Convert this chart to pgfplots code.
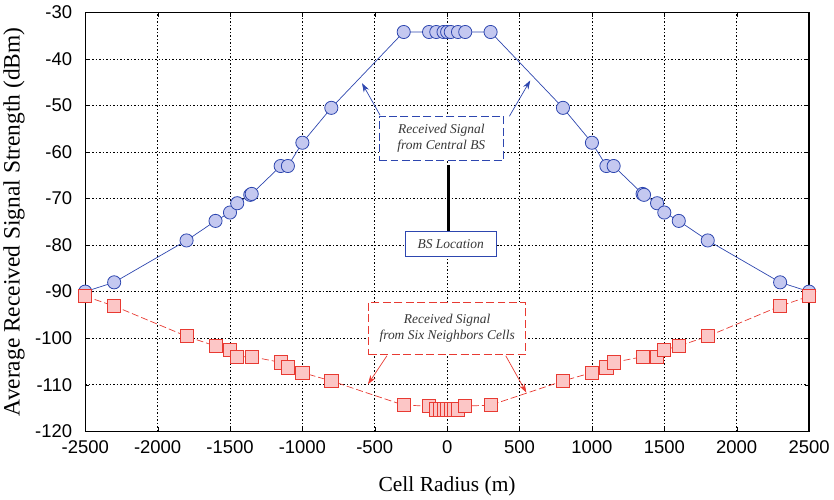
\documentclass[border=0pt]{standalone}
\usepackage{fontspec}
\setmainfont{Liberation Serif}
\newfontfamily\arialfont{Liberation Sans}
\usepackage{pgfplots}
\pgfplotsset{compat=1.18}
\usetikzlibrary{arrows.meta}
\definecolor{cbLine}{RGB}{45,70,175}
\definecolor{cbFill}{RGB}{196,200,240}
\definecolor{nbLine}{RGB}{232,58,50}
\definecolor{nbFill}{RGB}{252,198,198}
\definecolor{noteInk}{RGB}{55,55,55}

\begin{document}
\begin{tikzpicture}
\begin{axis}[
    scale only axis,
    width=726pt, height=420pt,
    xmin=-2500, xmax=2500, ymin=-120, ymax=-30,
    xtick={-2500,-2000,...,2500},
    ytick={-120,-110,...,-30},
    grid=major,
    grid style={black, line width=0.7pt, dash pattern=on 1.5pt off 2pt},
    axis line style={black, line width=1.2pt},
    tick style={black},
    ticklabel style={font=\arialfont\fontsize{18.5}{21}\selectfont},
    xticklabel style={inner sep=1pt, yshift=-8pt},
    yticklabel style={inner sep=1pt, xshift=-12pt},
    /pgf/number format/assume math mode=true,
    /pgf/number format/1000 sep={},
    xlabel={Cell Radius (m)},
    ylabel={Average Received Signal Strength (dBm)},
    xlabel style={font=\fontsize{21.5}{24}\selectfont, yshift=-19pt},
    ylabel style={font=\fontsize{23.5}{26}\selectfont, yshift=6pt},
    clip=false,
  ]
  % signal from the central BS
  \addplot[cbLine, line width=0.7pt, mark=*, mark size=6.6pt,
    mark options={fill=cbFill, draw=cbLine, line width=0.8pt}] coordinates {
    (-2500,-90) (-2300,-88) (-1800,-79) (-1600,-74.8) (-1500,-73)
    (-1450,-71) (-1360,-69.2) (-1350,-69) (-1150,-63) (-1100,-63)
    (-1000,-58) (-800,-50.5) (-300,-34.2)
    (-125,-34.2) (-75,-34.2) (-25,-34.2) (0,-34.2) (25,-34.2) (75,-34.2) (125,-34.2)
    (300,-34.2) (800,-50.5) (1000,-58) (1100,-63) (1150,-63)
    (1350,-69) (1360,-69.2) (1450,-71) (1500,-73) (1600,-74.8)
    (1800,-79) (2300,-88) (2500,-90)
  };
  % signal from the six neighbour cells
  \addplot[nbLine, line width=0.7pt, dash pattern=on 7pt off 3pt, mark=square*, mark size=6.6pt,
    mark options={fill=nbFill, draw=nbLine, line width=0.8pt, solid}] coordinates {
    (-2500,-91) (-2300,-93.1) (-1800,-99.6) (-1600,-101.7) (-1500,-102.5)
    (-1450,-104) (-1350,-104) (-1150,-105.2) (-1100,-106.3) (-1000,-107.4)
    (-800,-109.2) (-300,-114.4) (-125,-114.6)
    (-75,-115.3) (-50,-115.3) (-25,-115.3) (0,-115.3) (25,-115.3) (50,-115.3) (75,-115.3)
    (125,-114.6) (300,-114.4) (800,-109.2) (1000,-107.4) (1100,-106.3)
    (1150,-105.2) (1350,-104) (1450,-104) (1500,-102.5) (1600,-101.7)
    (1800,-99.6) (2300,-93.1) (2500,-91)
  };

  % annotations
  \draw[black, line width=3pt] (axis cs:8,-62.8) -- (axis cs:8,-77.1);
  \node[draw=cbLine, line width=0.8pt, dash pattern=on 8pt off 3.5pt, fill=white,
    minimum width=125pt, minimum height=44pt, align=center, inner sep=2pt,
    font=\itshape\fontsize{13.5}{16.5}\selectfont, text=noteInk]
    at (axis cs:-40,-57) {Received Signal\\from Central BS};
  \draw[cbLine, line width=0.7pt, -{Stealth[length=9pt,width=6pt]}]
    (axis cs:-463,-52.1) -- (axis cs:-588,-45.2);
  \draw[cbLine, line width=0.7pt, -{Stealth[length=9pt,width=6pt]}]
    (axis cs:430,-52.3) -- (axis cs:574,-44.6);
  \node[draw=cbLine, line width=0.8pt, fill=white,
    minimum width=91pt, minimum height=25pt, inner sep=2pt,
    font=\itshape\fontsize{13.5}{16.5}\selectfont, text=noteInk]
    at (axis cs:25,-79.8) {BS Location};
  \node[draw=nbLine, line width=0.8pt, dash pattern=on 8pt off 3.5pt, fill=white,
    minimum width=157pt, minimum height=53pt, align=center, inner sep=2pt,
    font=\itshape\fontsize{13.5}{16.5}\selectfont, text=noteInk]
    at (axis cs:0,-97.9) {Received Signal\\from Six Neighbors Cells};
  \draw[nbLine, line width=0.7pt, -{Stealth[length=9pt,width=6pt]}]
    (axis cs:-416,-103.8) -- (axis cs:-547,-109.9);
  \draw[nbLine, line width=0.7pt, -{Stealth[length=9pt,width=6pt]}]
    (axis cs:405,-103.8) -- (axis cs:547,-111.7);
\end{axis}
% margins as in the original figure
\path ([xshift=25pt,yshift=12.5pt]current axis.north east);
\path ([yshift=-66pt]current axis.south west);
\end{tikzpicture}
\end{document}
